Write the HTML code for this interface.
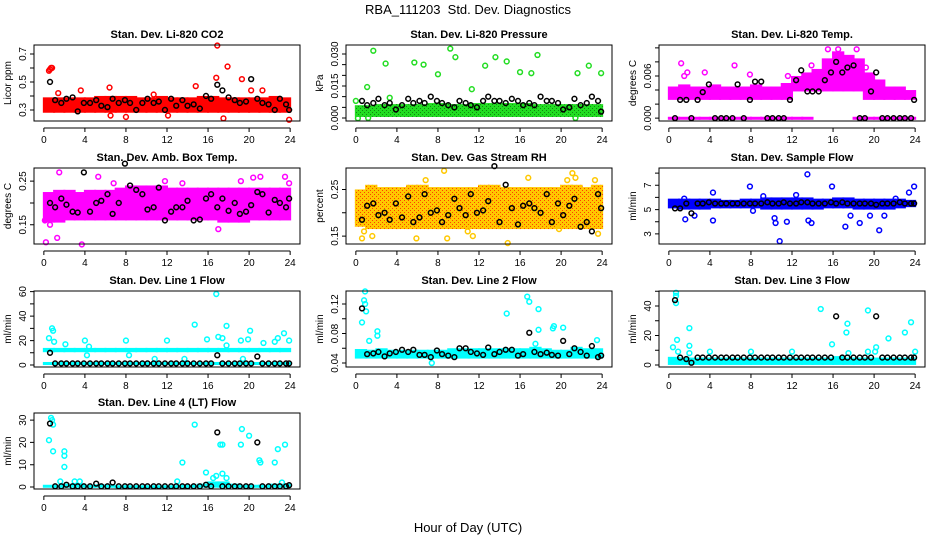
<!DOCTYPE html>
<html><head><meta charset="utf-8"><style>
html,body{margin:0;padding:0;background:#fff}
svg{display:block;font-family:"Liberation Sans",sans-serif}
</style></head><body>
<svg id="chart" width="936" height="540" viewBox="0 0 936 540">
<defs id="defs"></defs>
<text x="468" y="14" text-anchor="middle" font-size="13" style="white-space:pre">RBA_111203  Std. Dev. Diagnostics</text>
<text x="468" y="532" text-anchor="middle" font-size="13">Hour of Day (UTC)</text>
</svg>
<script>
const xTicks=[0,4,8,12,16,20,24];
const blkHours=[0.6,1.1,1.7,2.2,2.8,3.3,3.9,4.5,5.1,5.6,6.2,6.7,7.3,7.9,8.4,9.0,9.6,10.1,10.7,11.2,11.8,12.4,12.9,13.5,14.0,14.6,15.2,15.8,16.3,16.9,17.4,18.0,18.6,19.1,19.7,20.2,20.8,21.3,21.9,22.5,23.0,23.6,23.9];

const co2BandLo=[0.28,0.28,0.28,0.28,0.28,0.28,0.28,0.28,0.28,0.28,0.28,0.28,0.28,0.28,0.28,0.28,0.28,0.28,0.28,0.28,0.28,0.28,0.28,0.28];
const co2BandHi=[0.39,0.39,0.39,0.39,0.39,0.40,0.40,0.40,0.40,0.39,0.39,0.40,0.39,0.39,0.39,0.40,0.40,0.39,0.39,0.39,0.39,0.39,0.40,0.39];
const co2OutX=[0.5,0.6,0.7,0.8,1.4,3.6,6.4,6.5,8.0,10.7,12.1,14.8,16.8,16.9,17.5,17.9,19.3,20.2,21.3,23.9];
const co2OutY=[0.58,0.59,0.60,0.60,0.42,0.44,0.46,0.26,0.25,0.41,0.26,0.47,0.53,0.76,0.24,0.61,0.52,0.44,0.44,0.23];
const co2Blk=[0.50,0.37,0.35,0.38,0.39,0.29,0.35,0.35,0.37,0.33,0.32,0.38,0.35,0.37,0.35,0.30,0.35,0.38,0.35,0.36,0.30,0.38,0.33,0.37,0.33,0.34,0.31,0.40,0.38,0.48,0.44,0.39,0.37,0.35,0.36,0.52,0.38,0.35,0.34,0.30,0.38,0.34,0.30];

const presBandLo=[0.0005,0.0005,0.0005,0.0005,0.0005,0.0005,0.0005,0.0005,0.0005,0.0005,0.0005,0.0005,0.0005,0.0005,0.0005,0.0005,0.0005,0.0005,0.0005,0.0005,0.0005,0.0005,0.0005,0.0005];
const presBandHi=[0.006,0.006,0.0065,0.0065,0.0065,0.0065,0.0065,0.007,0.007,0.0065,0.0065,0.007,0.007,0.007,0.007,0.007,0.007,0.0065,0.0065,0.0065,0.0065,0.0065,0.0065,0.0065];
const presOutX=[0.0,0.2,1.1,1.2,1.7,2.9,3.3,5.7,6.6,8.0,9.2,9.7,11.3,12.6,13.6,14.7,16.0,17.1,17.7,21.4,21.6,22.7,23.9];
const presOutY=[0.008,-0.0001,0.0145,0.0,0.0315,0.0255,0.0095,0.026,0.025,0.0205,0.0325,0.0285,0.0135,0.0245,0.0285,0.0265,0.0215,0.021,0.0295,0.0,0.021,0.0245,0.021];
const presBlk=[0.008,0.006,0.007,0.009,0.006,0.007,0.004,0.006,0.009,0.007,0.008,0.007,0.010,0.008,0.007,0.006,0.005,0.008,0.007,0.006,0.005,0.008,0.010,0.008,0.008,0.007,0.009,0.008,0.006,0.007,0.006,0.010,0.008,0.008,0.007,0.004,0.005,0.009,0.006,0.007,0.010,0.008,0.003];

const tempBandLo=[0.0026,0.0026,0.0026,0.0026,0.0026,0.0026,0.0026,0.0026,0.0026,0.0026,0.0026,0.0026,0.0038,0.0038,0.0038,0.0038,0.0038,0.0038,0.0038,0.0026,0.0026,0.0026,0.0026,0.0026];
const tempBandHi=[0.0045,0.0048,0.0045,0.0045,0.0048,0.0045,0.0045,0.0045,0.0048,0.0045,0.0045,0.0050,0.0060,0.0065,0.0070,0.0085,0.0095,0.0090,0.0085,0.0065,0.0055,0.0045,0.0045,0.0040];
const tempZeroLo=[-0.0002,-0.0002,-0.0002,-0.0002,-0.0002,-0.0002,-0.0002,-0.0002,-0.0002,-0.0002,-0.0002,-0.0002,-0.0002,-0.0002,null,null,null,null,-0.0002,-0.0002,-0.0002,-0.0002,-0.0002,-0.0002];
const tempZeroHi=[0.0002,0.0002,0.0002,0.0002,0.0002,0.0002,0.0002,0.0002,0.0002,0.0002,0.0002,0.0002,0.0002,0.0002,null,null,null,null,0.0002,0.0002,0.0002,0.0002,0.0002,0.0002];
const tempOutX=[1.2,1.5,1.8,3.5,6.4,7.9,11.6,13.9,15.5,16.5,18.3,19.2];
const tempOutY=[0.0078,0.0060,0.0065,0.0065,0.0075,0.0062,0.0060,0.0075,0.0098,0.0098,0.0098,0.0072];
const tempBlk=[0,0.0026,0.0026,0,0.0026,0.0037,0.0048,0,0,0,0,0.0048,0,0.0026,0.0052,0.0052,0,0,0,0,0.0026,0.0054,0.0068,0.0038,0.0038,0.0038,0.0054,0.0065,0.0080,0.0065,0.0072,0.0075,0,0,0.0038,0.0065,0,0,0,0,0,0,0.0026];

const ambBandLo=[0.155,0.155,0.16,0.16,0.16,0.16,0.16,0.16,0.16,0.16,0.16,0.16,0.16,0.16,0.16,0.16,0.16,0.155,0.155,0.155,0.16,0.16,0.16,0.16];
const ambBandHi=[0.225,0.230,0.230,0.225,0.230,0.230,0.230,0.235,0.240,0.240,0.240,0.240,0.235,0.235,0.235,0.235,0.235,0.235,0.235,0.235,0.235,0.235,0.235,0.235];
const ambOutX=[0.1,0.2,1.3,1.5,3.7,5.3,6.8,11.8,13.5,17.0,19.2,20.4,21.1,23.5,23.9,0.6];
const ambOutY=[0.16,0.11,0.12,0.27,0.105,0.26,0.245,0.25,0.245,0.14,0.25,0.258,0.26,0.26,0.245,0.15];
const ambBlk=[0.20,0.19,0.21,0.196,0.18,0.178,0.27,0.18,0.20,0.205,0.22,0.175,0.20,0.29,0.24,0.23,0.22,0.185,0.19,0.235,0.16,0.18,0.19,0.19,0.205,0.16,0.162,0.21,0.22,0.19,0.21,0.182,0.20,0.175,0.18,0.195,0.225,0.22,0.178,0.207,0.20,0.19,0.21];

const rhBandLo=[0.17,0.165,0.165,0.165,0.165,0.165,0.165,0.165,0.165,0.165,0.165,0.165,0.165,0.165,0.165,0.165,0.165,0.165,0.165,0.165,0.165,0.165,0.165,0.165];
const rhBandHi=[0.25,0.26,0.255,0.255,0.255,0.26,0.26,0.255,0.255,0.255,0.255,0.255,0.26,0.26,0.255,0.255,0.255,0.255,0.255,0.255,0.26,0.26,0.255,0.26];
const rhOutX=[0.6,0.8,1.6,5.9,6.8,8.6,8.9,10.9,11.4,14.8,16.8,19.8,20.6,21.1,21.4,23.3,23.6];
const rhOutY=[0.145,0.16,0.15,0.145,0.27,0.29,0.145,0.16,0.15,0.135,0.275,0.165,0.27,0.285,0.275,0.27,0.155];
const rhBlk=[0.185,0.215,0.22,0.195,0.20,0.185,0.22,0.19,0.235,0.18,0.19,0.24,0.20,0.205,0.18,0.195,0.23,0.21,0.195,0.24,0.20,0.205,0.225,0.30,0.18,0.26,0.21,0.175,0.215,0.22,0.21,0.20,0.24,0.18,0.22,0.195,0.215,0.23,0.17,0.18,0.16,0.24,0.21];

const sfBandLo=[5.1,5.0,5.0,5.0,5.1,5.1,5.1,5.1,5.1,5.0,5.0,5.0,5.0,5.0,5.0,5.1,5.1,5.1,5.0,5.0,5.0,5.0,5.1,5.2];
const sfBandHi=[5.9,5.9,5.9,5.9,5.9,5.8,5.8,5.9,5.9,6.0,6.0,6.0,6.0,6.0,5.9,5.9,6.0,6.0,5.9,5.9,5.9,5.9,5.9,5.8];
const sfOutX=[1.5,1.6,2.5,4.3,4.3,7.9,8.2,9.2,10.3,10.4,10.8,11.5,12.4,13.5,13.6,13.9,15.9,17.2,17.7,18.6,19.6,20.5,21.0,22.1,23.4,23.9];
const sfOutY=[5.9,4.2,4.5,6.4,4.1,6.9,4.9,6.1,4.3,3.9,2.4,4.0,6.2,7.9,4.1,3.9,6.9,3.6,4.5,3.9,4.5,3.3,4.5,5.9,6.4,6.9];
const sfBlk=[5.1,5.1,5.5,4.7,5.5,5.5,5.6,5.5,5.5,5.5,5.5,5.5,5.5,5.5,5.5,5.5,5.6,5.5,5.5,5.6,5.5,5.5,5.6,5.6,5.5,5.5,5.5,5.6,5.5,5.6,5.5,5.5,5.5,5.5,5.5,5.4,5.5,5.5,5.5,5.6,5.5,5.5,5.5];

const l1BandLo=[10.5,10.5,10.5,10.5,10.5,10.5,10.5,10.5,10.5,10.5,10.5,10.5,10.5,10.5,10.5,10.5,10.5,10.5,10.5,10.5,10.5,10.5,10.5,10.5];
const l1BandHi=[14,14,14,14,14,14,14,14,14,14,14,14,14,14,14,14,14,14,14,14,14,14,14,14];
const l1RowLo=[0,0,0,0,0,0,0,0,0,0,0,0,0,0,0,0,0,0,0,0,0,0,0,0];
const l1RowHi=[2.5,2.5,2.5,2.5,2.5,2.5,2.5,2.5,2.5,2.5,2.5,2.5,2.5,2.5,2.5,2.5,2.5,2.5,2.5,2.5,2.5,2.5,2.5,2.5];
const l1OutX=[0.5,0.8,0.9,1.0,2.1,4.0,4.2,4.4,8.0,8.3,10.8,12.0,13.7,14.7,15.9,16.8,17.0,17.4,17.8,17.8,19.2,19.4,19.9,20.1,21.4,22.5,22.8,23.4,23.9];
const l1OutY=[22,30,28,19,17,20,8,15,20,8,5,20,5,33,21,58,23,22,32,16,20,5,21,28,18,19,22,26,20];
const l1Blk=[10,1.3,1.3,1.3,1.3,1.3,1.3,1.3,1.3,1.3,1.3,1.3,1.3,1.3,1.3,1.3,1.3,1.3,1.3,1.3,1.3,1.3,1.3,1.3,1.3,1.3,1.3,1.3,1.3,8,1.3,1.3,1.3,1.3,1.3,1.3,7,1.3,1.3,1.3,1.3,1.3,1.3];

const l2BandLo=[0.046,0.046,0.046,0.046,0.046,0.046,0.046,0.046,0.046,0.046,0.046,0.046,0.046,0.046,0.046,0.046,0.046,0.046,0.046,0.046,0.046,0.046,0.046,0.046];
const l2BandHi=[0.059,0.058,0.060,0.058,0.058,0.058,0.058,0.058,0.058,0.060,0.060,0.060,0.060,0.060,0.060,0.060,0.060,0.062,0.060,0.058,0.058,0.062,0.060,0.060];
const l2OutX=[0.6,0.8,0.9,0.9,1.0,1.3,2.1,2.1,7.4,14.7,16.7,16.9,17.5,17.8,17.8,19.2,19.3,20.2,23.5];
const l2OutY=[0.095,0.125,0.137,0.12,0.11,0.07,0.083,0.077,0.040,0.107,0.13,0.123,0.066,0.113,0.085,0.087,0.09,0.088,0.071];
const l2Blk=[0.114,0.052,0.053,0.055,0.049,0.053,0.055,0.058,0.055,0.058,0.051,0.051,0.048,0.057,0.052,0.050,0.048,0.060,0.060,0.055,0.053,0.051,0.061,0.052,0.055,0.058,0.058,0.050,0.052,0.081,0.055,0.052,0.054,0.051,0.050,0.070,0.052,0.060,0.055,0.050,0.063,0.048,0.050];

const l3BandLo=[0,0,0,0,0,0,0,0,0,0,0,0,0,0,0,0,0,0,0,0,0,0,0,0];
const l3BandHi=[5.5,5,5,5,5,5,5,5,5,5,5,5,5,5,5,5,6,5,5,5,5,5,5,5];
const l3OutX=[0.4,0.7,0.7,0.7,0.8,0.9,2.0,2.0,2.0,4.0,8.0,12.0,14.8,15.9,17.3,17.4,17.5,19.4,19.4,20.1,20.2,21.4,23.0,23.6,24.0];
const l3OutY=[12,47,49,42,17,9,25,13,8,9,9,9,38,14,22,28,8,37,9,9,12,18,22,29,9];
const l3Blk=[44,5,4,1.5,5,5,5,5,5,5,5,5,5,5,5,5,5,5,5,5,5,5,5,5,5,5,5,5,33,5,5,5,5,5,5,33,5,5,5,5,5,5,5];

const l4BandLo=[-0.3,-0.3,-0.3,-0.3,-0.3,-0.3,-0.3,-0.3,-0.3,-0.3,-0.3,-0.3,-0.3,-0.3,-0.3,-0.3,-0.3,-0.3,-0.3,-0.3,-0.3,-0.3,-0.3,-0.3];
const l4BandHi=[1,1,1.5,1.5,1,1.2,1,0.8,0.8,0.8,0.8,0.8,0.8,1,1,1.5,2.5,2.5,1.5,1,1,1,1.5,1.5];
const l4OutX=[0.5,0.7,0.8,0.9,0.9,1.6,2.0,2.0,2.0,3.0,3.5,13.0,13.5,14.7,15.8,16.5,16.8,17.2,17.4,17.4,17.8,19.2,19.3,20.0,21.0,21.1,22.5,22.8,23.2,23.5];
const l4OutY=[21,31,30,28,16,2.5,16,14,9,2.5,2.5,2.5,11,28,6.5,4,5,19,19,6,4,19,26,23,12,11,11,17,2,19];
const l4Blk=[28.5,0.3,0.3,1,0.3,0.3,0.3,0.3,1.5,0.3,0.3,2,0.3,0.3,0.3,0.3,0.3,0.3,0.3,0.3,0.3,0.3,0.3,0.3,0.3,0.3,0.3,1,0.3,24.5,0.3,0.3,0.3,0.3,0.3,0.3,20,0.3,0.3,0.3,0.3,0.3,0.8];

const NS='http://www.w3.org/2000/svg';
const svg=document.getElementById('chart');
const defs=document.getElementById('defs');
function mk(tag,attrs,parent){const e=document.createElementNS(NS,tag);for(const k in attrs)e.setAttribute(k,attrs[k]);(parent||svg).appendChild(e);return e;}
let patN=0;
function pattern(col,dark){
  if(!dark)return col;
  const id='pat'+(patN++);
  const p=mk('pattern',{id:id,width:4,height:4,patternUnits:'userSpaceOnUse'},defs);
  mk('rect',{x:0,y:0,width:4,height:4,fill:col},p);
  mk('rect',{x:0,y:0,width:1,height:1,fill:dark},p);
  mk('rect',{x:2,y:2,width:1,height:1,fill:dark},p);
  return 'url(#'+id+')';
}

function panel(o){
  const L=o.left,T=o.top,W=266,H=76;
  const g=mk('g',{});
  
  
  const xs=h=>L+W*(h+0.96)/25.92;
  const ys=v=>T+H*(o.ymax-v)/(o.ymax-o.ymin);
  const fill=pattern(o.color,o.dots);
  const cg=mk('g',{},g);
  function bands(lo,hi,nm){
    for(let i=0;i<lo.length;i++){
      if(lo[i]===null)continue;
      const r=mk('rect',{x:xs(i)-1,y:ys(hi[i]),width:xs(i+1)-xs(i)+2,height:Math.max(3,ys(lo[i])-ys(hi[i])),fill:fill},cg);
      
      
    }
  }
  bands(o.bandLo,o.bandHi,o.name+'-band');
  if(o.band2Lo)bands(o.band2Lo,o.band2Hi,o.name+'-band-row');
  function pts(X,Y,col,nm){
    for(let i=0;i<Y.length;i++){
      const c=mk('circle',{cx:xs(X[i]),cy:ys(Y[i]),r:2.4,fill:'none',stroke:col,'stroke-width':1.5},cg);
      
      
    }
  }
  pts(o.outX,o.outY,o.color,o.name+'-point');
  pts(blkHours,o.blk,'#000',o.name+'-mean-point');
  const box=mk('rect',{x:L,y:T,width:W,height:H,fill:'none',stroke:'#000','stroke-width':1},g);
  
  
  const t=mk('text',{x:L+W/2,y:T-7,'text-anchor':'middle','font-size':11,'font-weight':'bold'},g);
  t.textContent=o.title;
  
  
  const ax=mk('path',{d:`M${xs(0)},${T+H+7}H${xs(24)}`+xTicks.map(v=>`M${xs(v)},${T+H+7}v4`).join(''),stroke:'#000',fill:'none'},g);
  
  
  xTicks.forEach(v=>{const e=mk('text',{x:xs(v),y:T+H+22,'text-anchor':'middle','font-size':10},g);e.textContent=v;
    
    });
  const yt=o.ticks;
  const ay=mk('path',{d:`M${L},${ys(yt[0])}V${ys(yt[yt.length-1])}`+yt.map(v=>`M${L},${ys(v)}h-4`).join(''),stroke:'#000',fill:'none'},g);
  
  
  o.labels.forEach((s,i)=>{if(!s)return;const yy=ys(yt[i]);const e=mk('text',{x:L-8,y:yy,'text-anchor':'middle','font-size':10,transform:`rotate(-90 ${L-8} ${yy})`},g);e.textContent=s;
    
    });
  const yl=mk('text',{x:L-23,y:T+H/2,'text-anchor':'middle','font-size':10,transform:`rotate(-90 ${L-23} ${T+H/2})`},g);
  yl.textContent=o.ylab;
  
  
}
const C1=34,C2=346,C3=659,R1=45,R2=168,R3=291,R4=413;
panel({name:'co2',left:C1,top:R1,title:'Stan. Dev. Li-820 CO2',ylab:'Licor ppm',ymin:0.221,ymax:0.764,ticks:[0.3,0.4,0.5,0.6,0.7],labels:['0.3','','0.5','','0.7'],color:'#ff0000',bandLo:co2BandLo,bandHi:co2BandHi,outX:co2OutX,outY:co2OutY,blk:co2Blk});
panel({name:'pressure',left:C2,top:R1,title:'Stan. Dev. Li-820 Pressure',ylab:'kPa',ymin:-0.0014,ymax:0.0342,ticks:[0,0.005,0.01,0.015,0.02,0.025,0.03],labels:['0.000','','','0.015','','','0.030'],color:'#22dd22',dots:'#118811',bandLo:presBandLo,bandHi:presBandHi,outX:presOutX,outY:presOutY,blk:presBlk});
panel({name:'li820-temp',left:C3,top:R1,title:'Stan. Dev. Li-820 Temp.',ylab:'degrees C',ymin:-0.0004,ymax:0.0104,ticks:[0,0.002,0.004,0.006,0.008,0.010],labels:['0.000','','','0.006','',''],color:'#ff00ff',bandLo:tempBandLo,bandHi:tempBandHi,band2Lo:tempZeroLo,band2Hi:tempZeroHi,outX:tempOutX,outY:tempOutY,blk:tempBlk});
panel({name:'amb-box-temp',left:C1,top:R2,title:'Stan. Dev. Amb. Box Temp.',ylab:'degrees C',ymin:0.106,ymax:0.280,ticks:[0.15,0.20,0.25],labels:['0.15','','0.25'],color:'#ff00ff',bandLo:ambBandLo,bandHi:ambBandHi,outX:ambOutX,outY:ambOutY,blk:ambBlk});
panel({name:'gas-rh',left:C2,top:R2,title:'Stan. Dev. Gas Stream RH',ylab:'percent',ymin:0.133,ymax:0.296,ticks:[0.15,0.20,0.25],labels:['0.15','','0.25'],color:'#ffc800',dots:'#ff4000',bandLo:rhBandLo,bandHi:rhBandHi,outX:rhOutX,outY:rhOutY,blk:rhBlk});
panel({name:'sample-flow',left:C3,top:R2,title:'Stan. Dev. Sample Flow',ylab:'ml/min',ymin:2.17,ymax:8.42,ticks:[3,4,5,6,7,8],labels:['3','','5','','7',''],color:'#0000ff',bandLo:sfBandLo,bandHi:sfBandHi,outX:sfOutX,outY:sfOutY,blk:sfBlk});
panel({name:'line1-flow',left:C1,top:R3,title:'Stan. Dev. Line 1 Flow',ylab:'ml/min',ymin:-1.6,ymax:60.5,ticks:[0,10,20,30,40,50,60],labels:['0','','20','','40','','60'],color:'#00ffff',bandLo:l1BandLo,bandHi:l1BandHi,band2Lo:l1RowLo,band2Hi:l1RowHi,outX:l1OutX,outY:l1OutY,blk:l1Blk});
panel({name:'line2-flow',left:C2,top:R3,title:'Stan. Dev. Line 2 Flow',ylab:'ml/min',ymin:0.0346,ymax:0.1376,ticks:[0.04,0.06,0.08,0.10,0.12],labels:['0.04','','0.08','','0.12'],color:'#00ffff',bandLo:l2BandLo,bandHi:l2BandHi,outX:l2OutX,outY:l2OutY,blk:l2Blk});
panel({name:'line3-flow',left:C3,top:R3,title:'Stan. Dev. Line 3 Flow',ylab:'ml/min',ymin:-1.4,ymax:50.2,ticks:[0,10,20,30,40,50],labels:['0','','20','','40',''],color:'#00ffff',bandLo:l3BandLo,bandHi:l3BandHi,outX:l3OutX,outY:l3OutY,blk:l3Blk});
panel({name:'line4-flow',left:C1,top:R4,title:'Stan. Dev. Line 4 (LT) Flow',ylab:'ml/min',ymin:-0.9,ymax:33.2,ticks:[0,10,20,30],labels:['0','10','20','30'],color:'#00ffff',bandLo:l4BandLo,bandHi:l4BandHi,outX:l4OutX,outY:l4OutY,blk:l4Blk});
</script>
</body></html>
